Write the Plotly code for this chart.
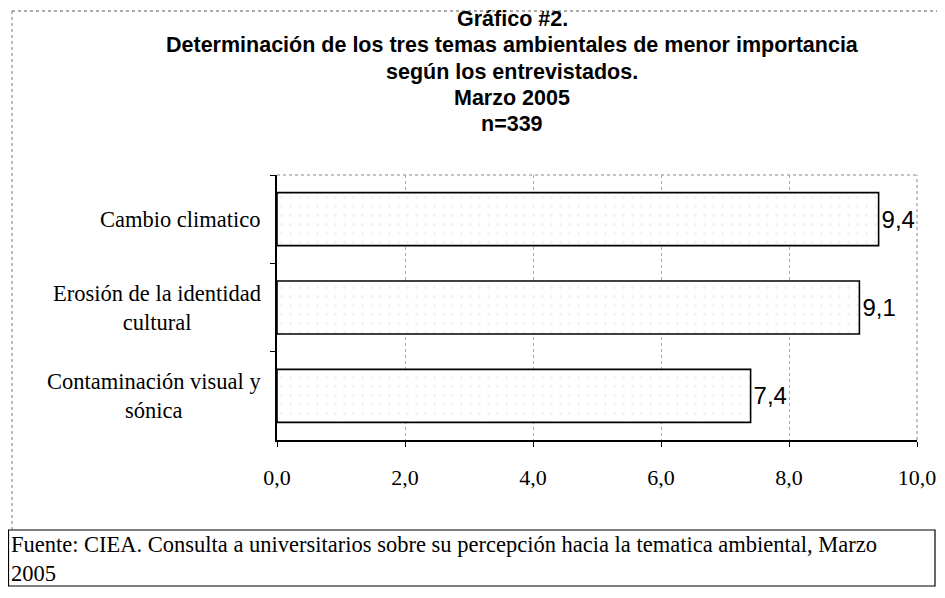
import plotly.graph_objects as go

categories = ["Cambio climatico", "Erosión de la identidad cultural", "Contaminación visual y sónica"]
label_text = ["Cambio climatico", "Erosión de la identidad<br>cultural", "Contaminación visual y<br>sónica"]
values = [9.4, 9.1, 7.4]
x_ticks = [0, 2, 4, 6, 8, 10]
title_lines = [
    "Gráfico #2.",
    "Determinación de los tres temas ambientales de menor importancia",
    "según los entrevistados.",
    "Marzo 2005",
    "n=339",
]
source_text = "Fuente: CIEA. Consulta a universitarios sobre su percepción hacia la tematica ambiental, Marzo<br>2005"

# page body has an 8px margin: work in screenshot pixels and subtract it
OFF = 8
W, H = 945 - OFF, 598 - OFF
L, R, T, B = 277 - OFF, 917 - OFF, 175 - OFF, 440 - OFF

def px2paper(px):
    return (px - OFF - L) / (R - L)

def py2paper(py):
    return (B - (py - OFF)) / (B - T)

fig = go.Figure(go.Bar(
    x=values, y=categories, orientation="h",
    marker=dict(color="white", line=dict(color="black", width=1.6),
                pattern=dict(shape=".", fgcolor="#d8d8d8", size=9, solidity=0.05)),
    width=0.6,
    texttemplate="%{x:.1f}", textposition="outside", cliponaxis=False,
    constraintext="none",
    textfont=dict(family="Liberation Sans, Arial", size=24, color="black"),
))

annotations = []
for i, line in enumerate(title_lines):
    annotations.append(dict(
        text="<b>%s</b>" % line, x=px2paper(512), xref="paper",
        y=py2paper(19 + i * 26.3), yref="paper", showarrow=False,
        xanchor="center", yanchor="middle",
        font=dict(family="Liberation Sans, Arial", size=21.5, color="black"),
    ))

for cat, lab in zip(categories, label_text):
    annotations.append(dict(
        text=lab, x=0, xref="paper", xshift=-14, y=cat, yref="y",
        showarrow=False, xanchor="right", yanchor="middle", align="center",
        font=dict(family="Liberation Serif, Times New Roman", size=22.5, color="black"),
    ))

annotations.append(dict(
    text=source_text, x=px2paper(9), xref="paper", y=py2paper(559), yref="paper",
    showarrow=False, xanchor="left", yanchor="middle", align="left",
    font=dict(family="Liberation Serif, Times New Roman", size=22.5, color="black"),
))

shapes = [
    # plot area top and right dotted borders
    dict(type="line", xref="paper", yref="paper", x0=0, x1=1, y0=1, y1=1,
         line=dict(color="#888", width=1, dash="dot")),
    dict(type="line", xref="paper", yref="paper", x0=1, x1=1, y0=0, y1=1,
         line=dict(color="#888", width=1, dash="dot")),
    # outer chart frame (dotted)
    dict(type="line", xref="paper", yref="paper", x0=px2paper(12), x1=px2paper(960),
         y0=py2paper(11), y1=py2paper(11), line=dict(color="#555", width=1, dash="dot")),
    dict(type="line", xref="paper", yref="paper", x0=px2paper(12), x1=px2paper(12),
         y0=py2paper(11), y1=py2paper(530), line=dict(color="#777", width=1, dash="dot")),
    # source box
    dict(type="rect", xref="paper", yref="paper", x0=px2paper(8.5), x1=px2paper(935),
         y0=py2paper(530), y1=py2paper(586), line=dict(color="black", width=1.2)),
]

fig.update_layout(
    width=W, height=H,
    margin=dict(l=L, r=W - R, t=T, b=H - B, autoexpand=False),
    paper_bgcolor="white", plot_bgcolor="white",
    separators=",.",
    showlegend=False,
    annotations=annotations,
    shapes=shapes,
    xaxis=dict(
        range=[0, 10], tickvals=x_ticks, tickformat=".1f",
        showgrid=True, gridcolor="#aaa", griddash="dot", gridwidth=1,
        showline=True, linecolor="black", linewidth=1.5,
        ticks="outside", ticklen=5, tickcolor="black",
        ticklabelstandoff=12,
        tickfont=dict(family="Liberation Serif, Times New Roman", size=22, color="black"),
        zeroline=False, fixedrange=True,
    ),
    yaxis=dict(
        categoryorder="array", categoryarray=categories, autorange="reversed",
        showline=True, linecolor="black", linewidth=1.5,
        ticks="outside", ticklen=5, tickcolor="black", tickson="boundaries",
        showticklabels=False, showgrid=False, fixedrange=True,
    ),
)

fig.write_html("out.html")
